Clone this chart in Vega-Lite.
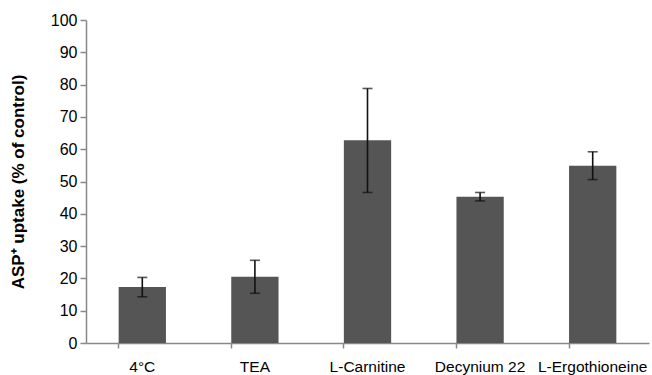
{
  "$schema": "https://vega.github.io/schema/vega-lite/v6.json",
  "autosize": "none",
  "width": 563,
  "height": 323,
  "padding": {"left": 86, "top": 20, "right": 3, "bottom": 32},
  "background": "white",
  "data": {"values": [
    {"cat": "4°C", "value": 17.3, "low": 14.3, "high": 20.3},
    {"cat": "TEA", "value": 20.5, "low": 15.4, "high": 25.6},
    {"cat": "L-Carnitine", "value": 62.8, "low": 46.6, "high": 78.8},
    {"cat": "Decynium 22", "value": 45.3, "low": 44.0, "high": 46.6},
    {"cat": "L-Ergothioneine", "value": 54.9, "low": 50.6, "high": 59.2}
  ]},
  "config": {
    "view": {"stroke": null},
    "font": "Liberation Sans",
    "axis": {"grid": false, "domainColor": "#888888", "tickColor": "#888888", "domainWidth": 1.5, "tickWidth": 1.5, "labelColor": "#000000", "labelFont": "Liberation Sans"},
    "axisY": {"tickCount": 10, "labelOverlap": false, "labelFlush": false, "labelFontSize": 16, "tickSize": 6, "labelPadding": 3, "titleFontSize": 17, "titleFontWeight": "bold", "titleColor": "#000000", "titlePadding": 23}
  },
  "encoding": {
    "x": {"field": "cat", "type": "nominal", "sort": null,
      "scale": {"paddingInner": 0.58, "paddingOuter": 0.29},
      "axis": {"title": null, "labelAngle": 0, "labelPadding": 11, "tickSize": 5, "bandPosition": 0, "labelFontSize": 15.5, "labelOverlap": false, "labelFlush": false}}
  },
  "layer": [
    {
      "mark": {"type": "bar", "color": "#555555"},
      "encoding": {
        "y": {"field": "value", "type": "quantitative",
          "scale": {"domain": [0, 100], "nice": false},
          "axis": {"tickCount": 10, "title": "ASP⁺ uptake (% of control)"}}
      }
    },
    {
      "mark": {"type": "rule", "color": "#111111", "strokeWidth": 1.6},
      "encoding": {
        "y": {"field": "low", "type": "quantitative"},
        "y2": {"field": "high"}
      }
    },
    {
      "mark": {"type": "tick", "color": "#111111", "thickness": 1.6, "size": 10, "orient": "horizontal"},
      "encoding": {"y": {"field": "low", "type": "quantitative"}}
    },
    {
      "mark": {"type": "tick", "color": "#111111", "thickness": 1.6, "size": 10, "orient": "horizontal"},
      "encoding": {"y": {"field": "high", "type": "quantitative"}}
    }
  ]
}
